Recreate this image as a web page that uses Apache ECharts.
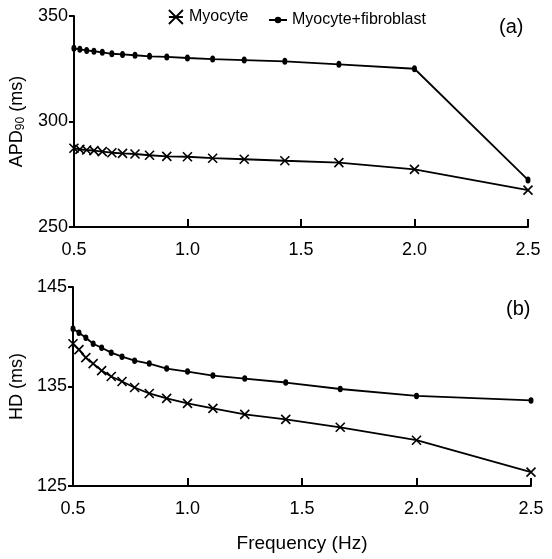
<!DOCTYPE html>
<html>
<head>
<meta charset="utf-8">
<script src="https://cdn.jsdelivr.net/npm/echarts@6/dist/echarts.min.js"></script>
<style>
html,body{margin:0;padding:0;background:#fff;}
#chart{width:552px;height:559px;}
</style>
</head>
<body>
<div id="chart"></div>
<script>
const freq = [0.5, 0.526, 0.556, 0.588, 0.625, 0.667, 0.714, 0.769, 0.833, 0.909, 1.0, 1.111, 1.25, 1.429, 1.667, 2.0, 2.5];
const apdMyo = [287.3, 286.8, 286.5, 286.2, 285.7, 285.2, 284.9, 284.6, 284.0, 283.5, 283.3, 282.6, 282.1, 281.4, 280.5, 277.3, 267.5];
const apdFib = [334.7, 334.2, 333.7, 333.3, 332.8, 332.1, 331.8, 331.4, 330.9, 330.6, 330.1, 329.6, 329.1, 328.5, 327.1, 325.0, 272.3];
const hdMyo = [139.3, 138.7, 137.9, 137.3, 136.6, 136.0, 135.5, 134.9, 134.3, 133.8, 133.3, 132.8, 132.2, 131.7, 130.9, 129.6, 126.4];
const hdFib = [140.8, 140.4, 139.9, 139.3, 138.9, 138.4, 138.0, 137.6, 137.3, 136.8, 136.5, 136.1, 135.8, 135.4, 134.75, 134.05, 133.6];
const xTicks = [0.5, 1.0, 1.5, 2.0, 2.5];
const apdTicks = [250, 300, 350];
const hdTicks = [125, 135, 145];
const seriesNames = ['Myocyte', 'Myocyte+fibroblast'];
const panelLabels = ['(a)', '(b)'];

const FONT = '"Liberation Sans", Arial, sans-serif';
const xMark = 'path://M0,0L10,10M10,0L0,10';
const legendMark = 'path://M0,0L10,10M10,0L0,10M0,5L10,5';

function pairs(xs, ys) { return xs.map((x, i) => [x, ys[i]]); }

function xAxisCfg(gridIndex, withName) {
  return {
    type: 'value', gridIndex: gridIndex, min: xTicks[0], max: xTicks[xTicks.length - 1], interval: 0.5,
    axisLine: { show: true, lineStyle: { color: '#000', width: 2 } },
    axisTick: { show: true, inside: true, length: 8, lineStyle: { color: '#000', width: 2 }, customValues: xTicks.slice(1) },
    axisLabel: { color: '#000', fontSize: 18, fontFamily: FONT, margin: 14, customValues: xTicks, formatter: v => v.toFixed(1) },
    splitLine: { show: false },
    name: withName ? 'Frequency (Hz)' : '', nameLocation: 'middle', nameGap: 48,
    nameTextStyle: { color: '#000', fontSize: 19, fontFamily: FONT }
  };
}
function yAxisCfg(gridIndex, ticks, name, gap, rich) {
  return {
    type: 'value', gridIndex: gridIndex, min: ticks[0], max: ticks[ticks.length - 1],
    axisLine: { show: true, lineStyle: { color: '#000', width: 2 } },
    axisTick: { show: true, inside: false, length: 5, lineStyle: { color: '#000', width: 2 }, customValues: ticks },
    axisLabel: { color: '#000', fontSize: 18, fontFamily: FONT, margin: 6, customValues: ticks },
    splitLine: { show: false },
    name: name, nameLocation: 'middle', nameGap: gap, nameRotate: 90,
    nameTextStyle: { color: '#000', fontSize: 18, fontFamily: FONT, rich: rich }
  };
}
function myoSeries(xi, data) {
  return {
    name: seriesNames[0], type: 'line', xAxisIndex: xi, yAxisIndex: xi, data: data,
    symbol: xMark, symbolSize: 9, showAllSymbol: true, animation: false,
    lineStyle: { color: '#000', width: 1.8 },
    itemStyle: { color: '#000', borderColor: '#000', borderWidth: 1.6 }, z: 2
  };
}
function fibSeries(xi, data, size) {
  return {
    name: seriesNames[1], type: 'line', xAxisIndex: xi, yAxisIndex: xi, data: data,
    symbol: 'circle', symbolSize: size, showAllSymbol: true, animation: false,
    lineStyle: { color: '#000', width: 1.8 },
    itemStyle: { color: '#000', borderWidth: 0 }, z: 3
  };
}

const chart = echarts.init(document.getElementById('chart'), null, { renderer: 'canvas' });
chart.setOption({
  backgroundColor: '#fff',
  animation: false,
  grid: [
    { left: 72, top: 16, width: 456, height: 211 },
    { left: 73, top: 287, width: 458, height: 199 }
  ],
  legend: [
    {
      left: 163, top: 4, itemWidth: 16, itemHeight: 14,
      textStyle: { color: '#000', fontSize: 16, fontFamily: FONT },
      data: [{ name: seriesNames[0], icon: legendMark, itemStyle: { color: '#000', borderColor: '#000', borderWidth: 1.8 } }]
    },
    {
      left: 263, top: 7, itemWidth: 18, itemHeight: 8,
      textStyle: { color: '#000', fontSize: 16, fontFamily: FONT },
      data: [{ name: seriesNames[1] }]
    }
  ],
  xAxis: [xAxisCfg(0, false), xAxisCfg(1, true)],
  yAxis: [
    yAxisCfg(0, apdTicks, 'APD{sub|90} (ms)', 46, { sub: { fontSize: 12, fontFamily: FONT, color: '#000', verticalAlign: 'bottom', padding: [8, 0, 0, 0] } }),
    yAxisCfg(1, hdTicks, 'HD (ms)', 47)
  ],
  series: [
    myoSeries(0, pairs(freq, apdMyo)),
    fibSeries(0, pairs(freq, apdFib), [5, 7]),
    myoSeries(1, pairs(freq, hdMyo)),
    fibSeries(1, pairs(freq, hdFib), [5, 6.5])
  ],
  graphic: [
    { type: 'text', left: 499, top: 17, style: { text: panelLabels[0], fontSize: 20, fontFamily: FONT, fill: '#000' } },
    { type: 'text', left: 506, top: 299, style: { text: panelLabels[1], fontSize: 20, fontFamily: FONT, fill: '#000' } }
  ]
});
</script>
</body>
</html>
